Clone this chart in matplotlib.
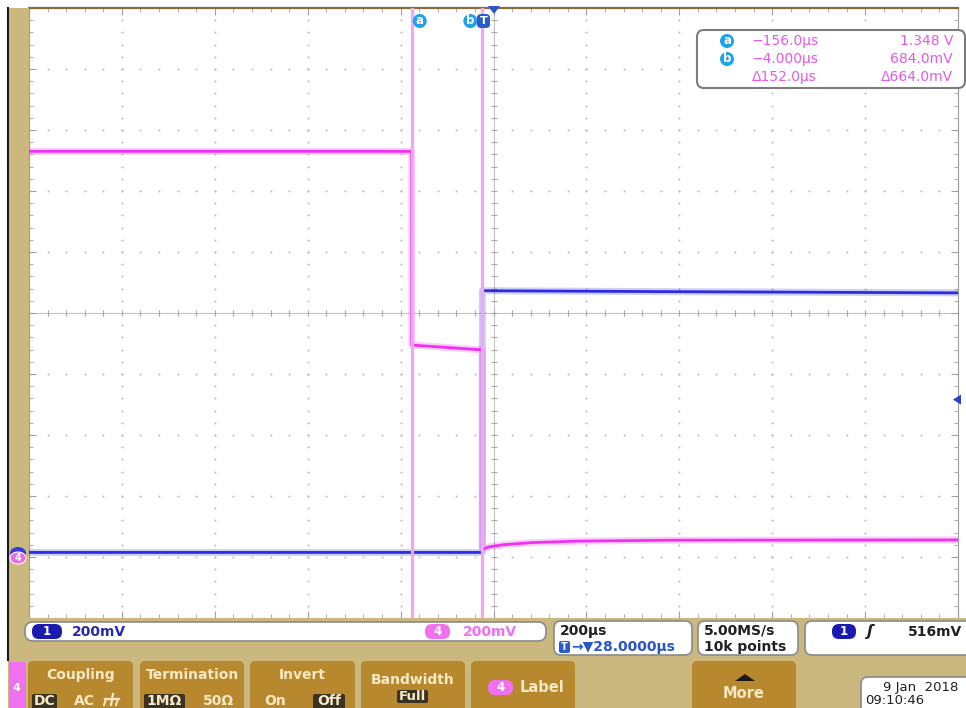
import matplotlib
matplotlib.use("Agg")
import matplotlib.pyplot as plt
from matplotlib.patches import FancyBboxPatch, Circle, Rectangle, Polygon, Ellipse
import numpy as np

W, H = 966, 708

# ---------------- data (time in µs, voltage in V) ----------------
ch4_t = [-980, -156, -156, -4, -4, 10, 40, 100, 200, 400, 1020]
ch4_v = [1.33, 1.33, 0.695, 0.679, 0.025, 0.033, 0.040, 0.047, 0.052, 0.055, 0.056]
ch1_t = [-980, -4, -4, 400, 1020]
ch1_v = [0.015, 0.015, 0.873, 0.870, 0.866]

cursor_t = [-156.0, -4.0]
cursor_names = ["a", "b"]
readout_time = ["−156.0µs", "−4.000µs", "Δ152.0µs"]
readout_volt = ["1.348 V", "684.0mV", "Δ664.0mV"]

time_per_div = 200.0      # µs/div
volt_per_div = 0.2        # V/div
time_center = 20.0        # µs at screen centre
ground_div = -4           # channel ground level (divisions from centre)
n_div = 10

ch1_scale = "200mV"
ch4_scale = "200mV"
timebase_txt = "200µs"
hpos_txt = "→▼28.0000µs"
rate_txt = "5.00MS/s"
points_txt = "10k points"
trig_txt = "516mV"
trig_level = 0.516
date_txt = "9 Jan  2018"
time_txt = "09:10:46"

# ---------------- colours ----------------
TAN = "#cab87e"
BTN = "#b8882e"
BTN_TXT = "#f6e9c4"
DARK = "#3a3222"
MAG = "#f026f0"
BLUE = "#2222e0"
CUR = "#f3a6f3"
CYAN = "#1ea2e8"
GRID = "#b8b8b8"

fig = plt.figure(figsize=(W / 100, H / 100), dpi=100)
fig.patch.set_facecolor("white")

# ---------------- main graticule ----------------
ax = fig.add_axes([29 / W, 1 - 618 / H, 929 / W, 610 / H], zorder=1)
xlo = time_center - n_div / 2 * time_per_div
xhi = time_center + n_div / 2 * time_per_div
ylo = (ground_div - (-n_div / 2)) * -volt_per_div
yhi = ylo + n_div * volt_per_div
ax.set_xlim(xlo, xhi)
ax.set_ylim(ylo, yhi)
ax.set_facecolor("white")

xs_major = [xlo + i * time_per_div for i in range(n_div + 1)]
ys_major = [ylo + j * volt_per_div for j in range(n_div + 1)]
xs_minor = np.linspace(xlo, xhi, n_div * 5 + 1)
ys_minor = np.linspace(ylo, yhi, n_div * 5 + 1)

for i in range(1, n_div):
    if i == n_div // 2:
        continue
    ax.plot([xs_major[i]] * len(ys_minor), ys_minor, ls="none", marker="o",
            ms=1.4, mew=0, color=GRID, zorder=1)
    ax.plot(xs_minor, [ys_major[i]] * len(xs_minor), ls="none", marker="o",
            ms=1.4, mew=0, color=GRID, zorder=1)

xc = xs_major[n_div // 2]
yc = ys_major[n_div // 2]
ax.axhline(yc, color="#c4c4c4", lw=0.8, zorder=1)
ax.axvline(xc, color="#c4c4c4", lw=0.8, zorder=1)
ax.plot(xs_minor, [yc] * len(xs_minor), ls="none", marker="|", ms=5,
        mew=0.8, color="#a8a8a8", zorder=1)
ax.plot([xc] * len(ys_minor), ys_minor, ls="none", marker="_", ms=5,
        mew=0.8, color="#a8a8a8", zorder=1)

ax.set_xticks(xs_major)
ax.set_xticks(xs_minor, minor=True)
ax.set_yticks(ys_major)
ax.set_yticks(ys_minor, minor=True)
ax.tick_params(which="both", direction="in", top=True, right=True,
               labelbottom=False, labelleft=False, color="#a0a0a0")
ax.tick_params(which="major", length=5)
ax.tick_params(which="minor", length=3)
for s in ["left", "right", "bottom"]:
    ax.spines[s].set_color("#9a9a9a")
ax.spines["top"].set_color("#8a6a3a")
ax.spines["top"].set_linewidth(1.6)

# traces (fuzzy look from a wide faint stroke under a core stroke)
for t, v, c in [(ch1_t, ch1_v, BLUE), (ch4_t, ch4_v, MAG)]:
    ax.plot(t, v, color=c, lw=5.0, alpha=0.22, solid_capstyle="butt", zorder=3)
    ax.plot(t, v, color=c, lw=2.0, alpha=0.95, solid_capstyle="butt", zorder=3)

for ct in cursor_t:
    ax.axvline(ct, color=CUR, lw=2.3, zorder=5)

# ---------------- overlay (pixel coords) ----------------
fg = fig.add_axes([0, 0, 1, 1], zorder=3)
fg.set_xlim(0, W)
fg.set_ylim(H, 0)
fg.axis("off")
fg.patch.set_alpha(0)

def px_x(t):
    return 29 + (t - xlo) / (xhi - xlo) * 929

def px_y(v):
    return 618 - (v - ylo) / (yhi - ylo) * 610

def rbox(x, y, w, h, fc, ec="none", lw=1.0, r=6, z=2):
    fg.add_patch(FancyBboxPatch((x, y), w, h,
                                boxstyle=f"round,pad=0,rounding_size={r}",
                                fc=fc, ec=ec, lw=lw, zorder=z))

def txt(x, y, s, color="black", size=10, ha="left", weight="bold", z=5, **kw):
    fg.text(x, y, s, color=color, fontsize=size, ha=ha, va="center",
            fontweight=weight, zorder=z, family="DejaVu Sans", **kw)

# tan frame
fg.add_patch(Rectangle((8, 8), 21, 610, fc=TAN, ec="none", zorder=1))
fg.add_patch(Rectangle((8, 618), W - 8, H - 618, fc=TAN, ec="none", zorder=1))
fg.plot([8, 8], [8, 660], color="#1a1a1a", lw=1.5, zorder=2)

# cursor labels at top
for ct, nm in zip(cursor_t, cursor_names):
    cx = px_x(ct) + (8 if nm == "a" else -12)
    fg.add_patch(Circle((cx, 21), 7, fc=CYAN, ec="none", zorder=5))
    txt(cx, 21, nm, color="white", size=8.5, ha="center")
rbox(477, 14, 13, 14, fc="#2a5ccc", r=4, z=6)
txt(483.5, 21, "T", color="white", size=8, ha="center", z=7)
fg.add_patch(Polygon([(488, 6), (500, 6), (494, 14)], closed=True,
                     fc="#2a55cc", ec="none", zorder=6))

# trigger level marker on right
ty = px_y(trig_level)
fg.add_patch(Polygon([(953, ty), (961, ty - 5), (961, ty + 5)], closed=True,
                     fc="#2a40d0", ec="none", zorder=6))

# ground markers on left
fg.add_patch(Ellipse((18, 553), 16, 12, fc="#3a3ad8", ec="none", zorder=4))
fg.add_patch(Ellipse((18, 558), 16, 12, fc="#ee66ee", ec="white", lw=0.8, zorder=5))
txt(18, 558, "4", color="white", size=7, ha="center", z=6)

# cursor readout box
rbox(697, 30, 268, 58, fc="white", ec="#7c7c7c", lw=1.5, r=7, z=4)
rows_y = [41, 59, 77]
for k in range(2):
    fg.add_patch(Circle((727, rows_y[k]), 7, fc=CYAN, ec="none", zorder=5))
    txt(727, rows_y[k], cursor_names[k], color="white", size=8.5, ha="center", z=6)
for k in range(3):
    txt(752, rows_y[k], readout_time[k], color="#e45ae4", size=10, weight="normal")
    txt(953, rows_y[k], readout_volt[k], color="#e45ae4", size=10, ha="right",
        weight="normal")

# ---------------- status bar ----------------
rbox(25, 622, 521, 19, fc="white", ec="#8a8a8a", lw=1.2, r=8)
rbox(32, 624, 30, 15, fc="#1a1ab0", r=7, z=3)
txt(47, 631.5, "1", color="white", size=8.5, ha="center")
txt(72, 631.5, ch1_scale, color="#2a2aa8", size=10)
rbox(425, 624, 25, 15, fc="#f070f0", r=7, z=3)
txt(437.5, 631.5, "4", color="white", size=8.5, ha="center")
txt(463, 631.5, ch4_scale, color="#f070f0", size=10)

rbox(554, 621, 138, 34, fc="white", ec="#8a8a8a", lw=1.2, r=7)
txt(560, 631, timebase_txt, color="#202020", size=10)
rbox(559, 641, 11, 12, fc="#2a5ccc", r=2, z=3)
txt(564.5, 647, "T", color="white", size=7, ha="center")
txt(571, 647, hpos_txt, color="#2a55c8", size=10)

rbox(698, 621, 100, 34, fc="white", ec="#8a8a8a", lw=1.2, r=7)
txt(704, 631, rate_txt, color="#202020", size=10)
txt(704, 647, points_txt, color="#202020", size=10)

rbox(805, 621, 170, 34, fc="white", ec="#8a8a8a", lw=1.2, r=7)
rbox(832, 624, 24, 15, fc="#1a1ab0", r=7, z=3)
txt(844, 631.5, "1", color="white", size=8.5, ha="center")
txt(870, 631.5, "ʃ", color="#202020", size=11, ha="center", style="italic")
txt(962, 631.5, trig_txt, color="#202020", size=10, ha="right")

# ---------------- soft-key menu ----------------
fg.add_patch(Rectangle((9, 662), 17, 46, fc="#f070f0", ec="none", zorder=2))
txt(16, 688, "4", color="white", size=8, ha="center")

buttons = [(28, 105, "Coupling"), (140, 104, "Termination"), (250, 105, "Invert"),
           (361, 104, "Bandwidth"), (471, 104, ""), (692, 104, "")]
for bx, bw, lab in buttons:
    rbox(bx, 661, bw, 55, fc=BTN, r=5)
    if lab and lab != "Bandwidth":
        txt(bx + bw / 2, 675, lab, color=BTN_TXT, size=10, ha="center")

# Coupling options
rbox(32, 694, 25, 16, fc=DARK, r=2, z=3)
txt(44.5, 701, "DC", color=BTN_TXT, size=10, ha="center")
txt(84, 701, "AC", color=BTN_TXT, size=10, ha="center")
fg.plot([113, 111], [694, 705], color=BTN_TXT, lw=1.6, zorder=5)
fg.plot([105, 119], [699, 699], color=BTN_TXT, lw=1.6, zorder=5)
fg.plot([106, 104], [699, 705], color=BTN_TXT, lw=1.4, zorder=5)
fg.plot([118, 116], [699, 705], color=BTN_TXT, lw=1.4, zorder=5)

# Termination options
rbox(144, 694, 41, 16, fc=DARK, r=2, z=3)
txt(164.5, 701, "1MΩ", color=BTN_TXT, size=10, ha="center")
txt(218, 701, "50Ω", color=BTN_TXT, size=10, ha="center")

# Invert options
txt(275, 701, "On", color=BTN_TXT, size=10, ha="center")
rbox(313, 694, 32, 16, fc=DARK, r=2, z=3)
txt(329, 701, "Off", color=BTN_TXT, size=10, ha="center")

# Bandwidth
txt(412.5, 680, "Bandwidth", color=BTN_TXT, size=10, ha="center")
rbox(397, 690, 31, 13, fc=DARK, r=2, z=3)
txt(412.5, 696.5, "Full", color=BTN_TXT, size=9.5, ha="center")

# Label
rbox(488, 680, 25, 15, fc="#f070f0", r=7, z=3)
txt(500.5, 687.5, "4", color="white", size=8.5, ha="center")
txt(520, 687, "Label", color=BTN_TXT, size=10.5)

# More
fg.add_patch(Polygon([(735, 681), (755, 681), (745, 674)], closed=True,
                     fc="#1a1a1a", ec="none", zorder=5))
txt(744, 693, "More", color=BTN_TXT, size=10.5, ha="center")

# date box
rbox(861, 677, 112, 40, fc="white", ec="#8a8a8a", lw=1.2, r=7)
txt(958, 688, date_txt, color="#202020", size=9.5, ha="right", weight="normal")
txt(865, 700, time_txt, color="#202020", size=9.5, weight="normal")

fig.savefig("out.png", dpi=100, facecolor="white")
